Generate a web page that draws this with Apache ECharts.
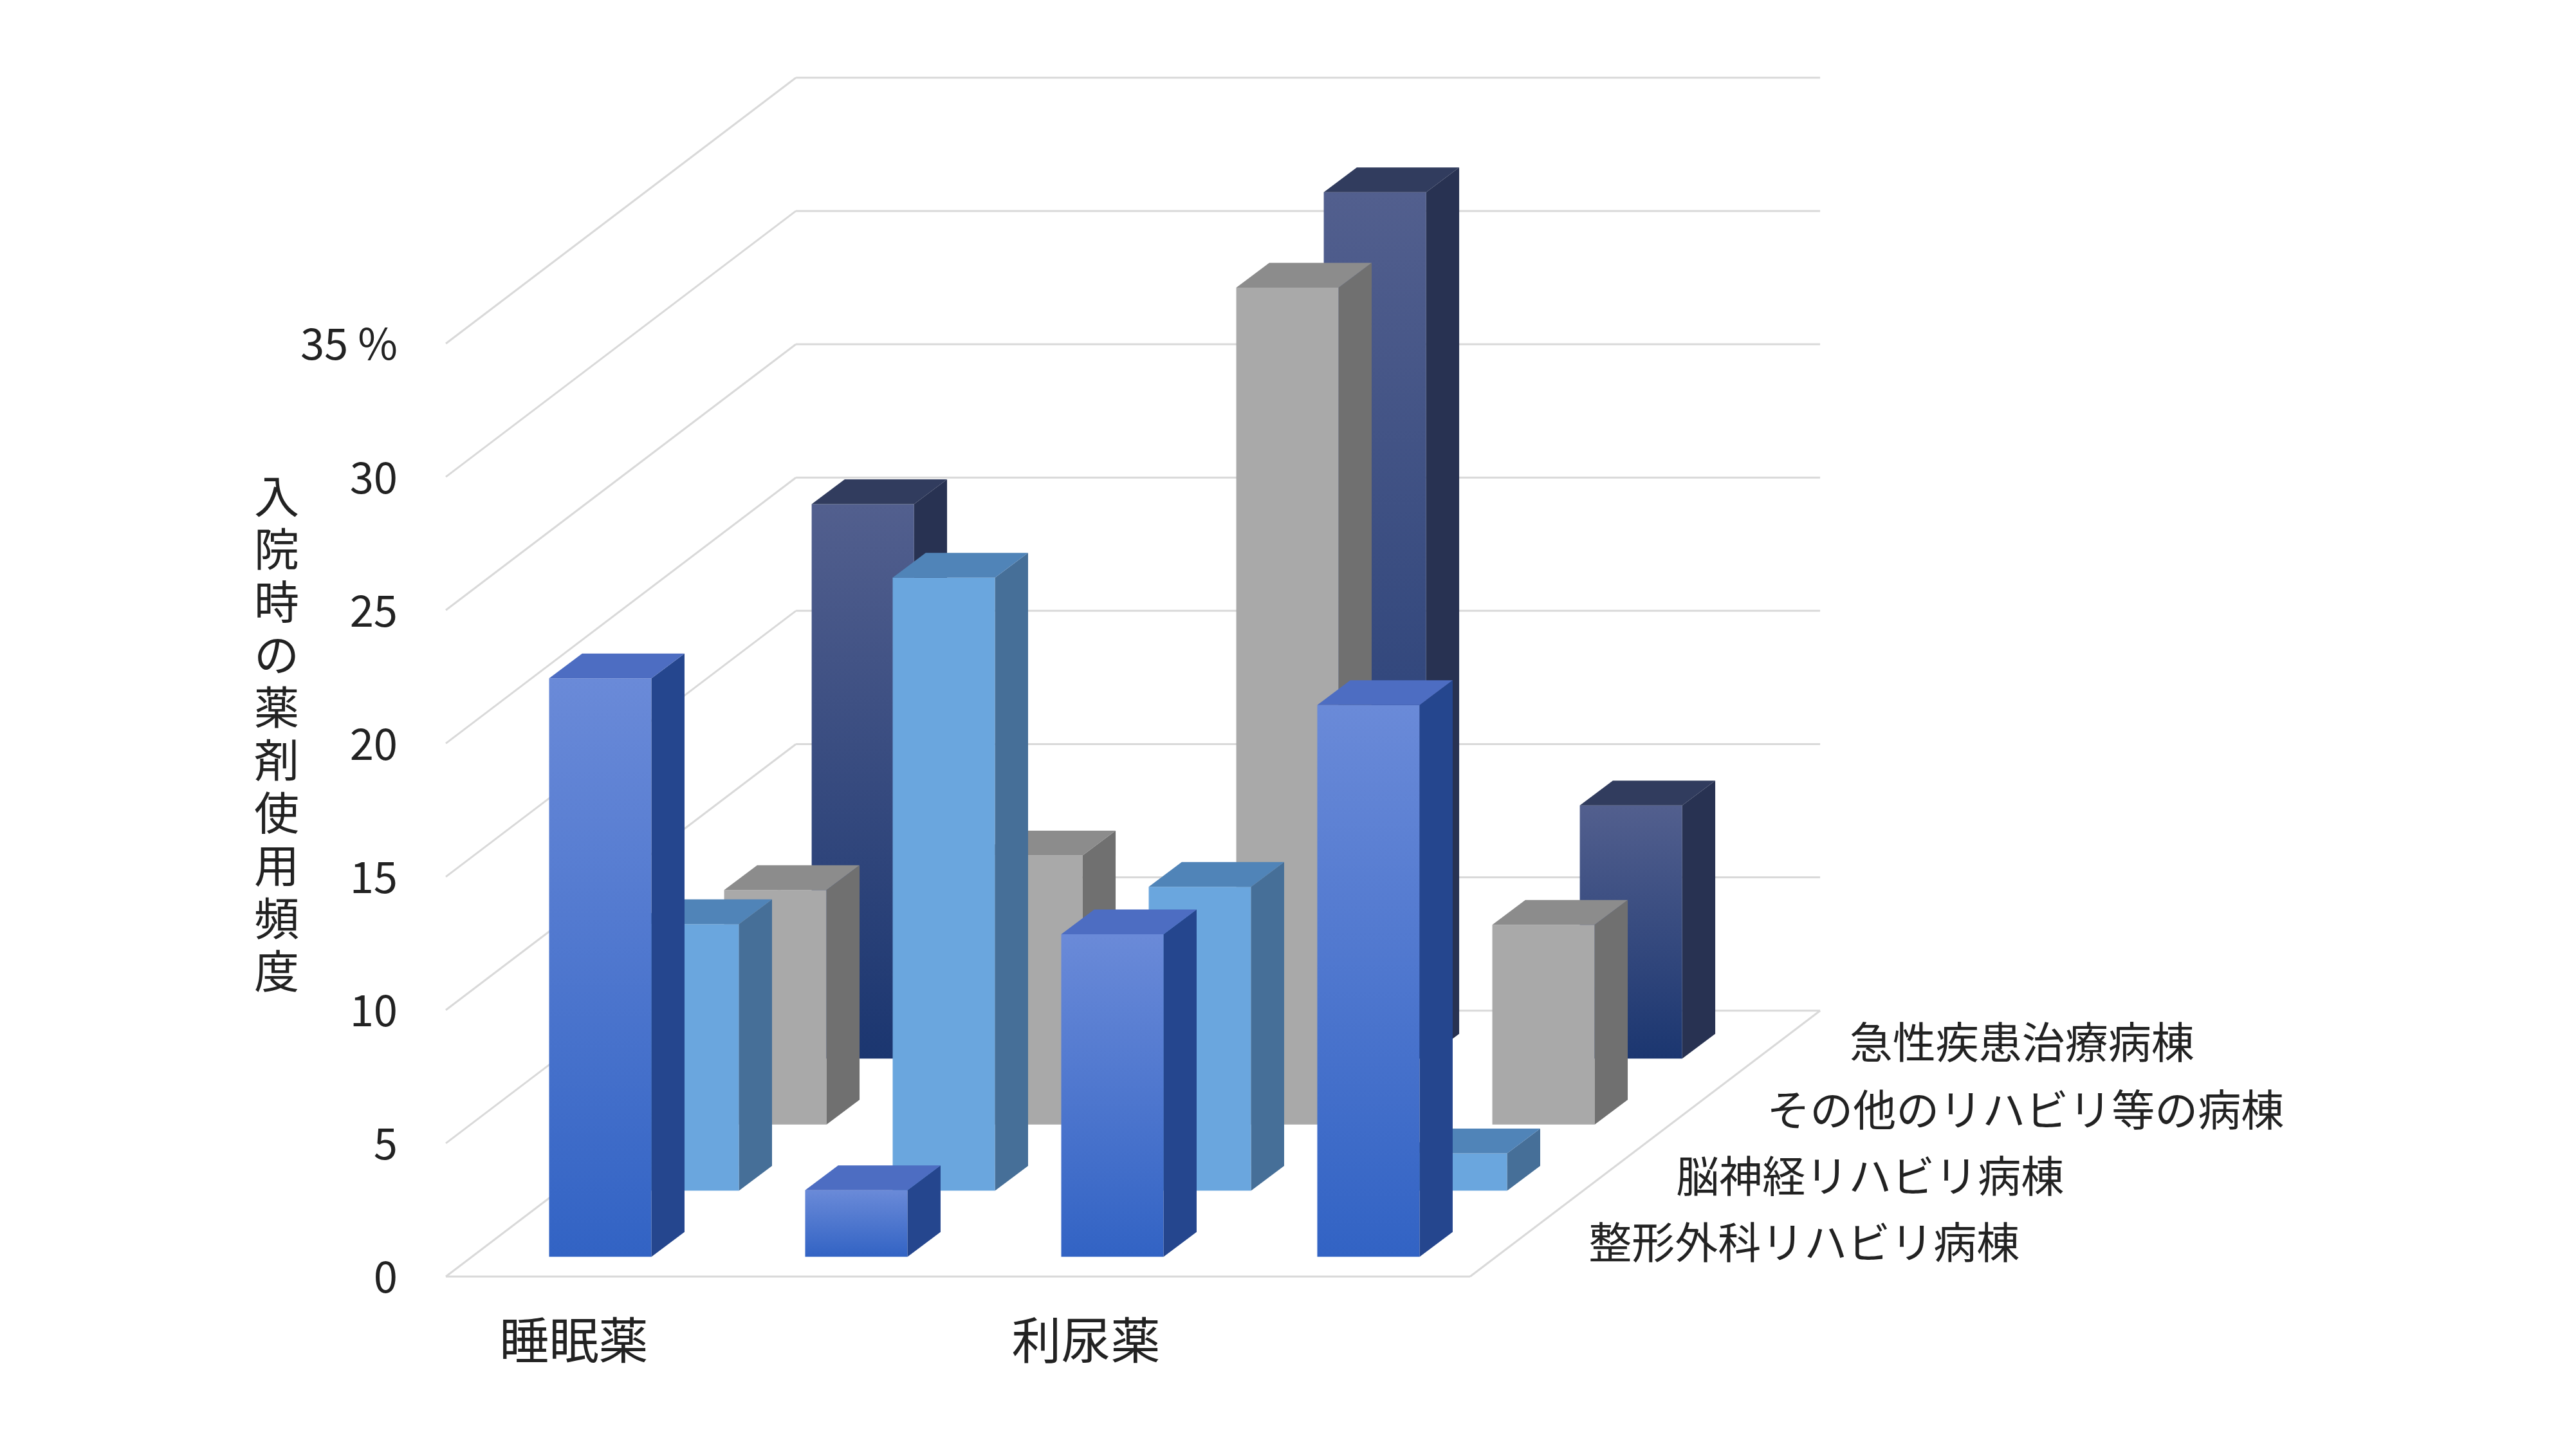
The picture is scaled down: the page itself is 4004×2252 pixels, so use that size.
<!DOCTYPE html>
<html><head><meta charset="utf-8">
<script src="https://cdn.jsdelivr.net/npm/echarts@6/dist/echarts.min.js"></script>
<style>html,body{margin:0;background:#fff}#c{width:4004px;height:2252px}</style>
</head><body><div id="c"></div>
<script>
var categories = ['睡眠薬','抗血栓薬','利尿薬','鎮痛薬'];
var rowNames = ['整形外科リハビリ病棟','脳神経リハビリ病棟','その他のリハビリ等の病棟','急性疾患治療病棟'];
var seiKei = [21.7, 2.5, 12.1, 20.7];
var noShinkei = [10.0, 23.0, 11.4, 1.4];
var sonota = [8.8, 10.1, 31.4, 7.5];
var kyusei = [20.8, 4.0, 32.5, 9.5];
var yTicks = [0,5,10,15,20,25,30,35];

var S = 4004/1560;
var FONT = '"Noto Sans CJK JP","Noto Sans",sans-serif';
var D = [212*S, -161*S];
var colors = [
 {front:new echarts.graphic.LinearGradient(0,0,0,1,[{offset:0,color:'#6a8ad8'},{offset:1,color:'#3263c4'}]), side:'#25468e', top:'#4d6dc2'},
 {front:'#6aa6de', side:'#466f98', top:'#5084b8'},
 {front:'#a9a9a9', side:'#707070', top:'#8c8c8c'},
 {front:new echarts.graphic.LinearGradient(0,0,0,1,[{offset:0,color:'#525f8e'},{offset:1,color:'#1b3670'}]), side:'#283252', top:'#313c5e'}
];
function mk(r){
  return function(params, api){
    var c=api.value(0), v=api.value(1);
    var p=api.coord([c,v]), b=api.coord([c,0]);
    var ox=(16+53*r)*S, oy=(-12-40*r)*S, w=31*S, dx=20*S, dy=-15*S;
    var x0=p[0]+ox-w, x1=p[0]+ox+w, yt=p[1]+oy, yb=b[1]+oy;
    var col=colors[r];
    return {type:'group', children:[
      {type:'rect', shape:{x:x0,y:yt,width:x1-x0,height:yb-yt}, style:{fill:col.front}},
      {type:'polygon', shape:{points:[[x1,yt],[x1+dx,yt+dy],[x1+dx,yb+dy],[x1,yb]]}, style:{fill:col.side}},
      {type:'polygon', shape:{points:[[x0,yt],[x0+dx,yt+dy],[x1+dx,yt+dy],[x1,yt]]}, style:{fill:col.top}}
    ]};
  };
}
function walls(params, api){
  var cs=params.coordSys, xl=cs.x, xr=cs.x+cs.width, ch=[];
  var ls={stroke:'#d9d9d9', lineWidth:3};
  yTicks.forEach(function(t){
    var y=api.coord([0,t])[1];
    ch.push({type:'line', shape:{x1:xl,y1:y,x2:xl+D[0],y2:y+D[1]}, style:ls});
    ch.push({type:'line', shape:{x1:xl+D[0],y1:y+D[1],x2:xr+D[0],y2:y+D[1]}, style:ls});
  });
  var y0=api.coord([0,0])[1];
  ch.push({type:'line', shape:{x1:xl,y1:y0,x2:xr,y2:y0}, style:ls});
  ch.push({type:'line', shape:{x1:xr,y1:y0,x2:xr+D[0],y2:y0+D[1]}, style:ls});
  return {type:'group', children:ch};
}
var rows=[seiKei,noShinkei,sonota,kyusei];
var series=[{type:'custom', renderItem:walls, data:[[0,0]], z:1, silent:true}];
for(var r=3;r>=0;r--){
  series.push({type:'custom', name:rowNames[r], renderItem:mk(r), z:10-r,
    data:rows[r].map(function(v,i){return [i,v];})});
}
var ch=echarts.init(document.getElementById('c'));
var legendPos=[[962,752],[1015,712],[1070,672],[1120,631]];
ch.setOption({
  animation:false,
  grid:{left:693,right:1719,top:534,bottom:268},
  xAxis:{type:'category', data:categories, axisLine:{show:false}, axisTick:{show:false},
    axisLabel:{fontSize:77, color:'#222', margin:60, fontFamily:FONT}},
  yAxis:{type:'value', min:0, max:35, interval:5, splitLine:{show:false},
    axisLabel:{fontSize:67, color:'#222', margin:75, fontFamily:FONT,
      formatter:function(v){return v===35?'35 %':String(v);}}},
  series:series,
  graphic:[{type:'text', left:395, top:730, style:{text:'入院時の薬剤使用頻度'.split('').join('\n'), fontSize:70, lineHeight:82, fill:'#222', fontFamily:FONT}}]
    .concat(legendPos.map(function(p,i){return {type:'text', x:p[0]*S, y:p[1]*S, style:{text:rowNames[i], fontSize:67, fill:'#222', fontFamily:FONT, verticalAlign:'middle'}};}))
});
</script></body></html>
